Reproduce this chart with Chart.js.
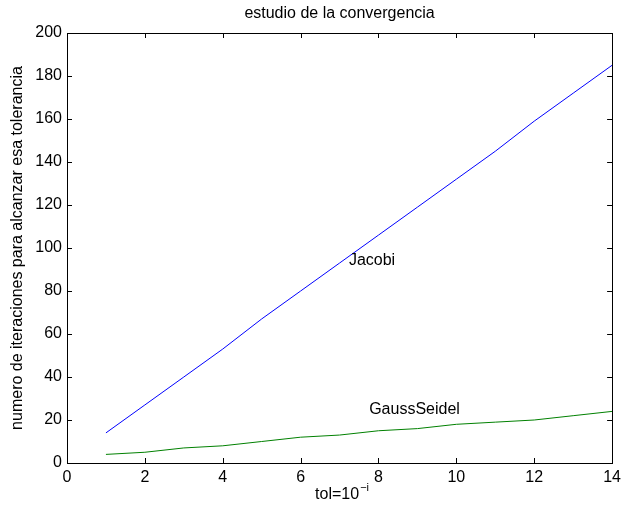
<!DOCTYPE html>
<html>
<head>
<meta charset="utf-8">
<script src="https://cdn.jsdelivr.net/npm/chart.js@4.4.0/dist/chart.umd.min.js"></script>
<style>
  body { margin: 0; background: #fff; }
</style>
</head>
<body>
<canvas id="chart" width="626" height="519"></canvas>
<script>
// data
const tolExp = [1, 2, 3, 4, 5, 6, 7, 8, 9, 10, 11, 12, 13, 14];
const jacobi = [14, 27, 40, 53, 67, 80, 93, 106, 119, 132, 145, 159, 172, 185];
const gaussSeidel = [4, 5, 7, 8, 10, 12, 13, 15, 16, 18, 19, 20, 22, 24];
const xTicks = [0, 2, 4, 6, 8, 10, 12, 14];
const yTicks = [0, 20, 40, 60, 80, 100, 120, 140, 160, 180, 200];

const FONT = "'Liberation Sans', Arial, Helvetica, sans-serif";
const FS = 16;

// labels placed on the plot, in data units
const labels = [
  { text: "Jacobi", x: 7.24, y: 94 },
  { text: "GaussSeidel", x: 7.76, y: 25 }
];

const toPoints = (ys) => tolExp.map((x, i) => ({ x: x, y: ys[i] }));

// box around the axes, ticks pointing in, texts
const matlabBox = {
  id: "matlabBox",
  afterDraw(chart) {
    const ctx = chart.ctx;
    const a = chart.chartArea;
    const xs = chart.scales.x;
    const ys = chart.scales.y;
    const tl = 5;
    ctx.save();
    ctx.strokeStyle = "#000";
    ctx.lineWidth = 1;
    ctx.strokeRect(Math.round(a.left) + 0.5, Math.round(a.top) + 0.5,
      Math.round(a.right - a.left), Math.round(a.bottom - a.top));
    ctx.beginPath();
    xTicks.forEach((v) => {
      const px = Math.round(xs.getPixelForValue(v)) + 0.5;
      ctx.moveTo(px, a.bottom);
      ctx.lineTo(px, a.bottom - tl);
      ctx.moveTo(px, a.top);
      ctx.lineTo(px, a.top + tl);
    });
    yTicks.forEach((v) => {
      const py = Math.round(ys.getPixelForValue(v)) + 0.5;
      ctx.moveTo(a.left, py);
      ctx.lineTo(a.left + tl, py);
      ctx.moveTo(a.right, py);
      ctx.lineTo(a.right - tl, py);
    });
    ctx.stroke();

    ctx.fillStyle = "#000";
    ctx.font = FS + "px " + FONT;
    ctx.textBaseline = "middle";
    ctx.textAlign = "left";
    labels.forEach((l) => {
      ctx.fillText(l.text, xs.getPixelForValue(l.x), ys.getPixelForValue(l.y));
    });

    // title
    ctx.textAlign = "center";
    ctx.fillText("estudio de la convergencia", (a.left + a.right) / 2, 14);

    // x axis title with superscript
    const main = "tol=10";
    const sup = "\u2212i";
    ctx.font = FS + "px " + FONT;
    const wMain = ctx.measureText(main).width;
    ctx.font = "11px " + FONT;
    const wSup = ctx.measureText(sup).width;
    const x0 = (a.left + a.right) / 2 - (wMain + wSup) / 2 + 2;
    ctx.textAlign = "left";
    ctx.textBaseline = "alphabetic";
    ctx.font = FS + "px " + FONT;
    ctx.fillText(main, x0, 499);
    ctx.font = "11px " + FONT;
    ctx.fillText(sup, x0 + wMain + 1, 491);
    ctx.restore();
  }
};

new Chart(document.getElementById("chart"), {
  type: "line",
  data: {
    datasets: [
      {
        label: "Jacobi",
        data: toPoints(jacobi),
        borderColor: "#0000ff",
        borderWidth: 1,
        pointRadius: 0,
        tension: 0
      },
      {
        label: "GaussSeidel",
        data: toPoints(gaussSeidel),
        borderColor: "#008000",
        borderWidth: 1,
        pointRadius: 0,
        tension: 0
      }
    ]
  },
  options: {
    responsive: false,
    animation: false,
    layout: { padding: { left: 0, top: 33, right: 12, bottom: 0 } },
    plugins: {
      legend: { display: false },
      title: { display: false },
      tooltip: { enabled: false }
    },
    scales: {
      x: {
        type: "linear",
        min: 0,
        max: 14,
        afterBuildTicks: (s) => { s.ticks = xTicks.map((v) => ({ value: v })); },
        afterFit: (s) => { s.height = 56; },
        grid: { display: false, drawTicks: false },
        border: { display: false },
        ticks: { color: "#000", font: { family: FONT, size: FS }, padding: 5, maxRotation: 0 }
      },
      y: {
        min: 0,
        max: 200,
        afterBuildTicks: (s) => { s.ticks = yTicks.map((v) => ({ value: v })); },
        afterFit: (s) => { s.width = 67; },
        grid: { display: false, drawTicks: false },
        border: { display: false },
        title: {
          display: true,
          text: "numero de iteraciones para alcanzar esa tolerancia",
          color: "#000",
          font: { family: FONT, size: FS },
          padding: { top: 8, bottom: 0 }
        },
        ticks: { color: "#000", font: { family: FONT, size: FS }, padding: 5 }
      }
    }
  },
  plugins: [matlabBox]
});
</script>
</body>
</html>
